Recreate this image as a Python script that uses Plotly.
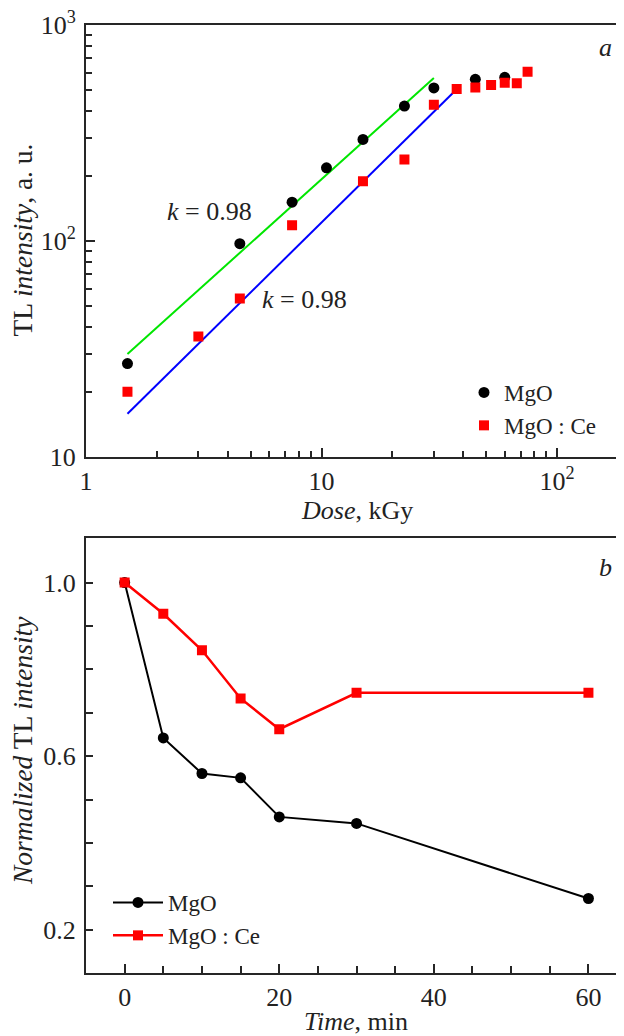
import plotly.graph_objects as go

# ---- data: panel a (TL intensity vs dose) ----
dose_mgo = [1.5, 4.5, 7.5, 10.5, 15, 22.5, 30, 45, 60]
tl_mgo = [27, 97, 151, 218, 295, 421, 511, 560, 572]
dose_ce = [1.5, 3, 4.5, 7.5, 15, 22.5, 30, 37.5, 45, 52.5, 60, 67.5, 75]
tl_ce = [20, 36, 54, 118, 189, 238, 427, 505, 514, 527, 540, 537, 608]
fit_mgo_x = [1.5, 30]
fit_mgo_y = [29.9, 568]
fit_ce_x = [1.5, 37.5]
fit_ce_y = [15.8, 504]
k_label = "<i>k</i> = 0.98"

# ---- data: panel b (normalized TL vs time) ----
time_min = [0, 5, 10, 15, 20, 30, 60]
norm_mgo = [1.0, 0.642, 0.560, 0.550, 0.460, 0.445, 0.272]
norm_ce = [1.0, 0.928, 0.844, 0.733, 0.662, 0.746, 0.746]

x1_ticks = [1, 10, 100]
x1_text = ["1", "10", "10<sup>2</sup>"]
y1_ticks = [10, 100, 1000]
y1_text = ["10", "10<sup>2</sup>", "10<sup>3</sup>"]
x2_ticks = [0, 20, 40, 60]
x2_text = ["0", "20", "40", "60"]
y2_ticks = [0.2, 0.6, 1.0]
y2_text = ["0.2", "0.6", "1.0"]

FONT = "Liberation Serif"
FS = 26
AX = "#262626"

# page has an 8px body margin: work in viewport pixels, convert to figure
OFF = 8
W, H = 624 - OFF, 1036 - OFF
L, R, T = 86 - OFF, 0, 25 - OFF
PLOT_BOTTOM = 973 - OFF
B = H - PLOT_BOTTOM
PW, PH = W - L - R, H - T - B


def px2paper_x(px):
    return (px - OFF - L) / PW


def px2paper_y(py):
    return (PLOT_BOTTOM - (py - OFF)) / PH


minor_log = [m * 10 ** e for e in range(0, 3) for m in range(2, 10)]

fig = go.Figure()

fig.add_trace(go.Scatter(x=fit_mgo_x, y=fit_mgo_y, mode="lines",
                         line=dict(color="#00e600", width=2),
                         showlegend=False, xaxis="x", yaxis="y"))
fig.add_trace(go.Scatter(x=fit_ce_x, y=fit_ce_y, mode="lines",
                         line=dict(color="#0000ff", width=2),
                         showlegend=False, xaxis="x", yaxis="y"))
fig.add_trace(go.Scatter(x=dose_mgo, y=tl_mgo, mode="markers", name="MgO",
                         marker=dict(symbol="circle", size=11, color="black"),
                         xaxis="x", yaxis="y", legend="legend"))
fig.add_trace(go.Scatter(x=dose_ce, y=tl_ce, mode="markers", name="MgO : Ce",
                         marker=dict(symbol="square", size=10, color="#ff0000"),
                         xaxis="x", yaxis="y", legend="legend"))

fig.add_trace(go.Scatter(x=time_min, y=norm_mgo, mode="lines+markers", name="MgO",
                         line=dict(color="black", width=2),
                         marker=dict(symbol="circle", size=11, color="black"),
                         xaxis="x2", yaxis="y2", legend="legend2"))
fig.add_trace(go.Scatter(x=time_min, y=norm_ce, mode="lines+markers", name="MgO : Ce",
                         line=dict(color="#ff0000", width=2.5),
                         marker=dict(symbol="square", size=10, color="#ff0000"),
                         xaxis="x2", yaxis="y2", legend="legend2"))

axis_common = dict(showline=True, linecolor=AX, linewidth=2, ticks="inside",
                   tickcolor=AX, tickwidth=1.5, showgrid=False, zeroline=False,
                   ticklabeloverflow="allow",
                   tickfont=dict(family=FONT, size=FS, color="#222"))

top_dom = [px2paper_y(456.7), 1.0]
bot_dom = [0.0, px2paper_y(538.3)]

fig.update_layout(
    width=W, height=H,
    margin=dict(l=L, r=R, t=T, b=B),
    plot_bgcolor="white", paper_bgcolor="white",
    font=dict(family=FONT, size=FS, color="#222"),
    xaxis=dict(type="log", range=[0, 2.2845], domain=[0, 1], anchor="y",
               tickmode="array", tickvals=x1_ticks, ticktext=x1_text,
               ticklen=9, mirror=True,
               minor=dict(ticks="inside", tickmode="array", tickvals=minor_log,
                          ticklen=6, tickcolor=AX, tickwidth=1.5),
               **axis_common),
    yaxis=dict(type="log", range=[1, 3], domain=top_dom, anchor="x",
               tickmode="array", tickvals=y1_ticks, ticktext=y1_text,
               ticklen=9, mirror=False, ticklabelstandoff=3,
               minor=dict(ticks="inside", tickmode="array", tickvals=minor_log,
                          ticklen=6, tickcolor=AX, tickwidth=1.5),
               **axis_common),
    xaxis2=dict(range=[-5, 64.6], domain=[0, 1], anchor="y2",
                tickmode="array", tickvals=x2_ticks, ticktext=x2_text,
                ticklen=9, mirror=True,
                minor=dict(ticks="inside", tickmode="array",
                           tickvals=[5, 10, 15, 25, 30, 35, 45, 50, 55],
                           ticklen=7, tickcolor=AX, tickwidth=1.5),
                **axis_common),
    yaxis2=dict(range=[0.1003, 1.102], domain=bot_dom, anchor="x2",
                tickmode="array", tickvals=y2_ticks, ticktext=y2_text,
                ticklen=7, mirror=False, ticklabelstandoff=3,
                minor=dict(ticks="inside", dtick=0.1, tick0=0, ticklen=7,
                           tickcolor=AX, tickwidth=1.5),
                **axis_common),
    legend=dict(x=px2paper_x(464), y=px2paper_y(371), xanchor="left", yanchor="top",
                bgcolor="rgba(0,0,0,0)", font=dict(family=FONT, size=23, color="#222"),
                tracegroupgap=0),
    legend2=dict(x=px2paper_x(108), y=px2paper_y(881), xanchor="left", yanchor="top",
                 bgcolor="rgba(0,0,0,0)", font=dict(family=FONT, size=23, color="#222"),
                 tracegroupgap=0, itemwidth=50),
    showlegend=True,
)

ann = []


def add_text(text, px, py, angle=0, size=FS):
    ann.append(dict(text=text, x=px2paper_x(px), y=px2paper_y(py), xref="paper", yref="paper",
                    showarrow=False, xanchor="center", yanchor="middle", textangle=angle,
                    font=dict(family=FONT, size=size, color="#222")))


add_text(k_label, 209, 212)
add_text(k_label, 304, 300)
add_text("<i>a</i>", 605, 47)
add_text("<i>b</i>", 605, 567)
add_text("TL <i>intensity</i>, a. u.", 22, 240.5, angle=-90, size=27.5)
add_text("<i>Normalized</i> TL <i>intensity</i>", 22, 751, angle=-90, size=27.5)
add_text("<i>Dose</i>, kGy", 357, 510)
add_text("<i>Time</i>, min", 356, 1021)
fig.update_layout(annotations=ann)

fig.write_html("out.html")
